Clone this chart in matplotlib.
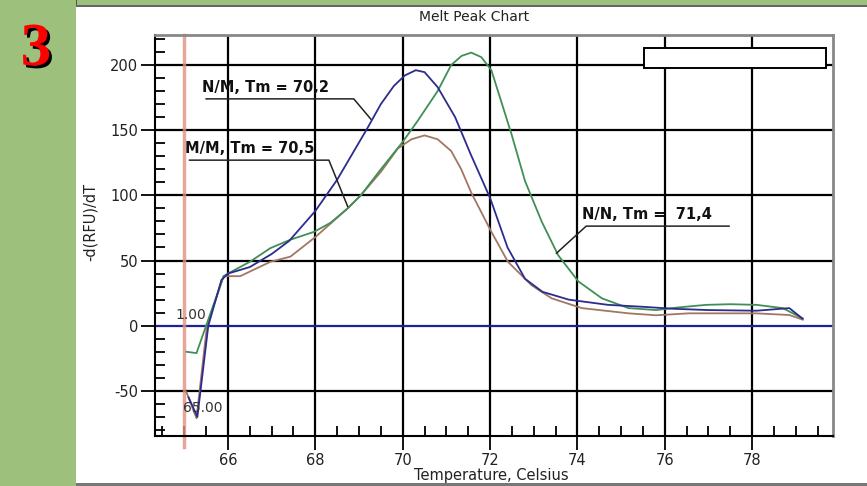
import matplotlib
matplotlib.use('Agg')
import matplotlib.pyplot as plt
from matplotlib.patches import Rectangle
from matplotlib.ticker import MultipleLocator
import matplotlib.patheffects as pe

plt.rcParams['axes.unicode_minus'] = False

# melt peak curves, -d(RFU)/dT vs temperature
nm_temp = [65.10, 65.30, 65.55, 65.85, 66.00, 66.50, 67.00, 67.40, 68.00, 68.50, 69.20, 69.50,
           69.80, 70.05, 70.30, 70.50, 70.80, 71.20, 71.55, 72.00, 72.40, 72.80, 73.20, 73.80,
           74.70, 75.50, 76.20, 77.00, 78.10, 78.85, 79.15]
nm_val = [-55, -70, 0, 35, 40, 45, 55, 65, 88, 112, 152, 170,
          184, 192, 196, 194.5, 183, 160, 132, 98, 60, 36, 26, 20,
          16, 14.5, 13, 12, 11.5, 13.5, 5.5]

nn_temp = [65.05, 65.28, 65.50, 65.90, 66.00, 66.50, 66.97, 67.43, 67.97, 68.35, 68.74, 69.04,
           69.50, 70.00, 70.34, 70.80, 71.11, 71.35, 71.57, 71.80, 72.03, 72.49, 72.80, 73.18,
           73.56, 74.02, 74.56, 75.17, 75.80, 76.30, 76.95, 77.50, 78.10, 78.70, 79.16]
nn_val = [-20, -21, 0, 38, 40, 49, 59.5, 66, 72, 79, 90, 100,
          120, 141, 157, 180, 200, 207, 209.5, 206, 196, 147, 111, 80,
          54, 34, 21, 13.5, 12, 14, 16, 16.5, 16, 13.5, 5.5]

mm_temp = [65.05, 65.28, 65.52, 65.90, 66.28, 66.97, 67.43, 68.00, 68.74, 69.04, 69.50, 69.89,
           70.20, 70.50, 70.80, 71.11, 71.34, 71.57, 72.03, 72.41, 72.95, 73.41, 74.10, 75.17,
           75.80, 76.55, 77.30, 78.08, 78.85, 79.16]
mm_val = [-51, -71, 0, 38, 38, 49, 53, 68, 90, 100, 118, 136,
          143, 146, 143, 134, 120, 102, 72, 49, 31, 21, 13.5, 9.5,
          8, 9.5, 9.5, 9.5, 8.2, 4.6]

x_ticks = [66, 68, 70, 72, 74, 76, 78]
y_ticks = [-50, 0, 50, 100, 150, 200]

# label text, text anchor (x, y), underline end x, leader target (x, y), leader side
labels = [
    ('N/M, Tm = 70,2', 65.40, 183, 68.88, 69.27, 158.5, 'right'),
    ('M/M, Tm = 70,5', 65.02, 136, 68.31, 68.74, 91.5, 'right'),
    ('N/N, Tm =  71,4', 74.10, 85.4, 77.47, 73.52, 55.6, 'left'),
]

fig = plt.figure(figsize=(8.67, 4.86), dpi=100)
fig.patch.set_facecolor('white')

# slide background
fig.patches.append(Rectangle((0, 0), 76 / 867, 1, transform=fig.transFigure,
                             facecolor='#9dc07c', edgecolor='none', zorder=0))
fig.patches.append(Rectangle((0, 1 - 5 / 486), 1, 5 / 486, transform=fig.transFigure,
                             facecolor='#9dc07c', edgecolor='none', zorder=0))
fig.patches.append(Rectangle((76 / 867, 1 - 6 / 486), 0.0015, 1, transform=fig.transFigure,
                             facecolor='#555555', edgecolor='none', zorder=0))
fig.patches.append(Rectangle((76 / 867, 0), 1, 3 / 486, transform=fig.transFigure,
                             facecolor='#777777', edgecolor='none', zorder=0))
fig.patches.append(Rectangle((76 / 867, 1 - 7 / 486), 1, 2 / 486, transform=fig.transFigure,
                             facecolor='#666666', edgecolor='none', zorder=0))

fig.text(36 / 867, 1 - 50 / 486, '3', fontsize=44, fontweight='bold', family='Liberation Serif',
         color='red', ha='center', va='center',
         path_effects=[pe.withSimplePatchShadow(offset=(2, -2), shadow_rgbFace='black', alpha=1)])

ax = fig.add_axes([155 / 867, 1 - 436 / 486, (833 - 155) / 867, (436 - 35) / 486])
ax.set_xlim(64.33, 79.85)
ax.set_ylim(-84.6, 223)

for x in x_ticks:
    ax.axvline(x, color='black', lw=1.6, zorder=1)
for y in y_ticks:
    if y == 0:
        ax.axhline(y, color='#1f1f9a', lw=1.6, zorder=1)
    else:
        ax.axhline(y, color='black', lw=1.6, zorder=1)

ax.add_patch(Rectangle((75.52, 197.9), 79.68 - 75.52, 213.3 - 197.9, facecolor='white',
                       edgecolor='black', lw=1.4, zorder=2))

ax.plot([65, 65], [223, -93], color='#e3907f', lw=2.5, alpha=0.8, clip_on=False, zorder=2)

ax.plot(mm_temp, mm_val, color='#a27662', lw=1.3, zorder=3)
ax.plot(nn_temp, nn_val, color='#3f8f56', lw=1.3, zorder=3)
ax.plot(nm_temp, nm_val, color='#2c2c8e', lw=1.3, zorder=4)

for text, tx, ty, ux, lx, ly, side in labels:
    ax.text(tx, ty, text, fontsize=10.5, fontweight='bold', va='center', ha='left',
            color='#111111', zorder=5)
    uy = ty - 9
    if side == 'right':
        ax.plot([tx + 0.1, ux, lx], [uy, uy, ly], color='#222222', lw=1.1, zorder=5)
    else:
        ax.plot([ux, tx + 0.1, lx], [uy, uy, ly], color='#222222', lw=1.1, zorder=5)

ax.text(64.79, 8.5, '1.00', fontsize=10, color='#333333', va='center', zorder=5)
ax.text(64.97, -63, '65.00', fontsize=10, color='#333333', va='center', zorder=5)

ax.set_xticks(x_ticks)
ax.set_yticks(y_ticks)
ax.xaxis.set_minor_locator(MultipleLocator(0.5))
ax.yaxis.set_minor_locator(MultipleLocator(10))
ax.tick_params(which='major', direction='out', length=10, width=1.3, labelsize=10.5,
               labelcolor='#222222', pad=2)
ax.tick_params(which='minor', direction='in', length=7, width=1.3)

ax.spines['left'].set_linewidth(1.5)
ax.spines['bottom'].set_linewidth(1.5)
for s in ['top', 'right']:
    ax.spines[s].set_color('#888888')
    ax.spines[s].set_linewidth(2)

fig.text(474 / 867, 1 - 17 / 486, 'Melt Peak Chart', fontsize=10, ha='center', va='center',
         color='#222222')
fig.text(491 / 867, 1 - 475 / 486, 'Temperature, Celsius', fontsize=10.5, ha='center',
         va='center', color='#222222')
fig.text(90 / 867, 1 - 222 / 486, '-d(RFU)/dT', fontsize=10.5, rotation=90, ha='center',
         va='center', color='#222222')

fig.savefig('out.png', dpi=100)
